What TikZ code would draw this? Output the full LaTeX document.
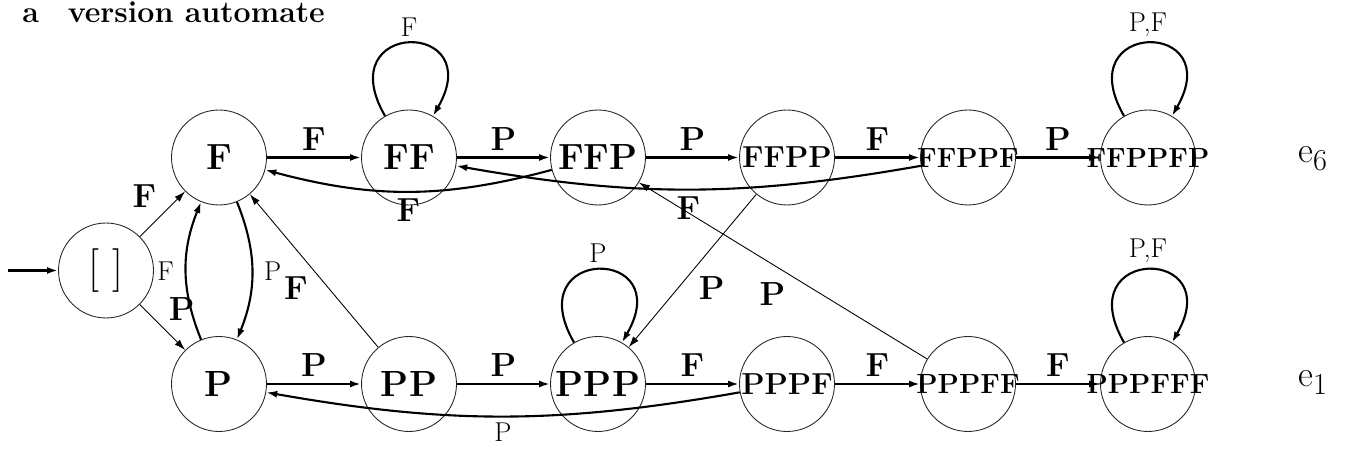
\documentclass[tikz,border=0pt]{standalone}
\usepackage{amsmath}
\usetikzlibrary{arrows.meta}

\newcommand{\mot}[1]{\makebox[0pt]{\bfseries #1}}
\newcommand{\moyen}{\fontsize{15.8}{19}\selectfont}

\begin{document}
\begin{tikzpicture}[x=0.02cm, y=0.02cm]
  \tikzstyle{etat}=[circle, draw=black!85, line width=0.5pt, minimum size=1.9cm, inner sep=0pt]
  \tikzstyle{fleche}=[-{Latex[length=2.2mm,width=1.4mm]}, line width=1.6pt]
  \tikzstyle{courbe}=[-{Latex[length=2.2mm,width=1.4mm]}, line width=1.2pt]
  \tikzstyle{lien}=[-{Latex[length=2.2mm,width=1.4mm]}, line width=0.5pt]
  \tikzstyle{gras}=[font=\fontsize{19}{23}\selectfont\bfseries]
  \tikzstyle{fin}=[font=\fontsize{15.5}{18.6}\selectfont]
  \useasboundingbox (0,0) rectangle (1347,450);
  % titre
  \node[anchor=base west, inner sep=0pt] (titre) at (22,427) {\LARGE\bfseries a\hspace{0.95em}version automate};
  % etats
  \node[etat] (init) at (106,179.5) {\Huge [ ]};
  \node[etat] (f) at (219,292.5) {\huge\mot{F}};
  \node[etat] (ff) at (409,292.5) {\huge\mot{FF}};
  \node[etat] (ffp) at (598,292.5) {\huge\mot{FFP}};
  \node[etat] (ffpp) at (787,292.5) {\LARGE\mot{FFPP}};
  \node[etat] (ffppf) at (968,292.5) {\moyen\mot{FFPPF}};
  \node[etat] (ffppfp) at (1148,292.5) {\moyen\mot{FFPPFP}};
  \node[etat] (p) at (219,66) {\huge\mot{P}};
  \node[etat] (pp) at (409,66) {\huge\mot{PP}};
  \node[etat] (ppp) at (598,66) {\huge\mot{PPP}};
  \node[etat] (pppf) at (787,66) {\LARGE\mot{PPPF}};
  \node[etat] (pppff) at (968,66) {\moyen\mot{PPPFF}};
  \node[etat] (pppfff) at (1148,66) {\moyen\mot{PPPFFF}};
  \node[anchor=base west, inner sep=0pt] (e6) at (1298,287) {\huge e\raisebox{-0.5ex}{\LARGE 6}};
  \node[anchor=base west, inner sep=0pt] (e1) at (1298,63) {\huge e\raisebox{-0.5ex}{\LARGE 1}};
  % entree
  \coordinate (depart) at (8,179.5);
  \draw[fleche] (depart) -- (init);
  \draw[lien] (init) -- node[gras, above left]{F} (f);
  \draw[lien] (init) -- node[gras, above right]{P} (p);
  \draw[courbe] (p) to[bend left=22] node[fin, left=3pt]{F} (f);
  \draw[courbe] (f) to[bend left=22] node[fin, right=3pt]{P} (p);
  % ligne du haut
  \draw[fleche] (f) -- node[gras, above]{F} (ff);
  \draw[fleche] (ff) -- node[gras, above]{P} (ffp);
  \draw[fleche] (ffp) -- node[gras, above]{P} (ffpp);
  \draw[fleche] (ffpp) -- node[gras, above]{F} (ffppf);
  \draw[fleche] (ffppf) -- node[gras, above]{P} (ffppfp);
  \draw[courbe] (ffp) to[bend left=15] node[gras, below]{F} (f);
  \draw[courbe] (ffppf) to[bend left=10] node[gras, below]{F} (ff);
  % ligne du bas
  \draw[fleche] (p) -- node[gras, above]{P} (pp);
  \draw[fleche] (pp) -- node[gras, above]{P} (ppp);
  \draw[fleche] (ppp) -- node[gras, above]{F} (pppf);
  \draw[fleche] (pppf) -- node[gras, above]{F} (pppff);
  \draw[fleche] (pppff) -- node[gras, above]{F} (pppfff);
  \draw[courbe] (pppf) to[bend left=10] node[fin, below]{P} (p);
  % retours
  \draw[lien] (pp) -- node[gras, below left]{F} (f);
  \draw[lien] (ffpp) -- node[gras, below right]{P} (ppp);
  \draw[lien] (pppff) -- node[gras, pos=0.47, below left]{P} (ffp);
  % boucles
  \draw[courbe] (ff.120) .. controls +(120:112) and +(60:112) .. node[fin, above]{F} (ff.60);
  \draw[courbe] (ffppfp.120) .. controls +(120:112) and +(60:112) .. node[fin, above]{P,F} (ffppfp.60);
  \draw[courbe] (ppp.120) .. controls +(120:112) and +(60:112) .. node[fin, above]{P} (ppp.60);
  \draw[courbe] (pppfff.120) .. controls +(120:112) and +(60:112) .. node[fin, above]{P,F} (pppfff.60);
\end{tikzpicture}
\end{document}
